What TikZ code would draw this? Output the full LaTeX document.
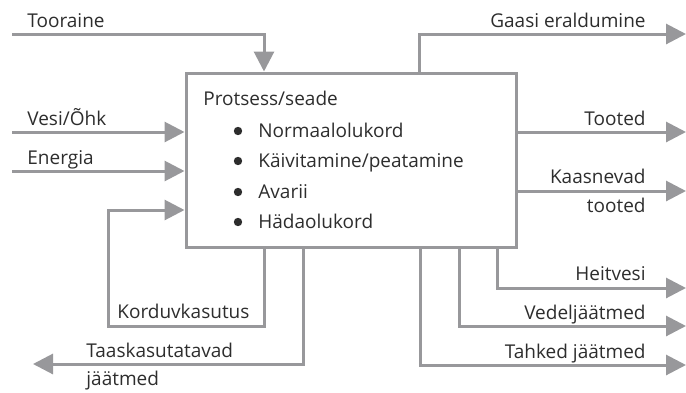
\documentclass[tikz,border=0pt]{standalone}
\usepackage{fontspec}
\setmainfont{Open Sans}
\usetikzlibrary{arrows.meta,positioning}

\definecolor{linegray}{RGB}{152,152,155}
\definecolor{textgray}{RGB}{45,45,45}

\begin{document}
\begin{tikzpicture}[x=0.5pt, y=-0.5pt,
    flow/.style={draw=linegray, line width=1.5pt, -{Triangle[length=10pt,width=10pt]}},
    lbl/.style={text=textgray, font=\fontsize{9.5}{11}\selectfont, inner sep=0pt},
    dot/.style={circle, fill=textgray, inner sep=0pt, minimum size=4.2pt}]
   \useasboundingbox (0,0) rectangle (686,392);

   \node[draw=linegray, line width=1.5pt, minimum width=165pt, minimum height=87pt, inner sep=0pt] (proc) at (351,160) {};

   %box text
   \node[lbl, anchor=base west] (title) at (203,105) {Protsess/seade};
   \node[dot] (b1) at (238,131) {};
   \node[dot] (b2) at (238,161) {};
   \node[dot] (b3) at (238,192) {};
   \node[dot] (b4) at (238,222) {};
   \node[lbl, anchor=base west] (s1) at (258,137) {Normaalolukord};
   \node[lbl, anchor=base west] (s2) at (258,167) {Käivitamine/peatamine};
   \node[lbl, anchor=base west] (s3) at (258,198) {Avarii};
   \node[lbl, anchor=base west] (s4) at (258,228) {Hädaolukord};

   %inputs
   \coordinate (tin) at (12,34);
   \coordinate (vin) at (12,132);
   \coordinate (ein) at (12,171);
   \node[lbl, anchor=base west] (tooraine) at (27,27) {Tooraine};
   \node[lbl, anchor=base west] (vesi) at (27,125) {Vesi/Õhk};
   \node[lbl, anchor=base west] (energia) at (27,164) {Energia};

   %outputs
   \coordinate (gout) at (686,34);
   \coordinate (tout) at (686,132);
   \coordinate (kout) at (686,191);
   \coordinate (hout) at (686,288);
   \coordinate (vout) at (686,326);
   \coordinate (jout) at (686,365);
   \coordinate (rout) at (33,364);
   \coordinate (loop) at (108,326);
   \node[lbl, anchor=base east] (gaas) at (646,27) {Gaasi eraldumine};
   \node[lbl, anchor=base east] (tooted) at (646,125) {Tooted};
   \node[lbl, anchor=base east] (kaas1) at (646,183) {Kaasnevad};
   \node[lbl, anchor=base east] (kaas2) at (646,212) {tooted};
   \node[lbl, anchor=base east] (heit) at (646,280) {Heitvesi};
   \node[lbl, anchor=base east] (vedel) at (646,319) {Vedeljäätmed};
   \node[lbl, anchor=base east] (tahked) at (646,358) {Tahked jäätmed};
   \node[lbl, anchor=base west] (kord) at (117,318) {Korduvkasutus};
   \node[lbl, anchor=base west] (taas1) at (86,357) {Taaskasutatavad};
   \node[lbl, anchor=base west] (taas2) at (86,385) {jäätmed};

   %inputs
   \draw[flow] (tin) -| (264,0 |- proc.north);
   \draw[flow] (vin) -- (proc.west |- vin);
   \draw[flow] (ein) -- (proc.west |- ein);
   %reuse
   \draw[flow] (264,0 |- proc.south) |- (loop) |- (proc.west |- 0,210);
   \draw[flow] (303,0 |- proc.south) |- (rout);
   %outputs
   \draw[flow] (419,0 |- proc.north) |- (gout);
   \draw[flow] (proc.east |- tout) -- (tout);
   \draw[flow] (proc.east |- kout) -- (kout);
   \draw[flow] (497,0 |- proc.south) |- (hout);
   \draw[flow] (459,0 |- proc.south) |- (vout);
   \draw[flow] (420,0 |- proc.south) |- (jout);
\end{tikzpicture}
\end{document}
